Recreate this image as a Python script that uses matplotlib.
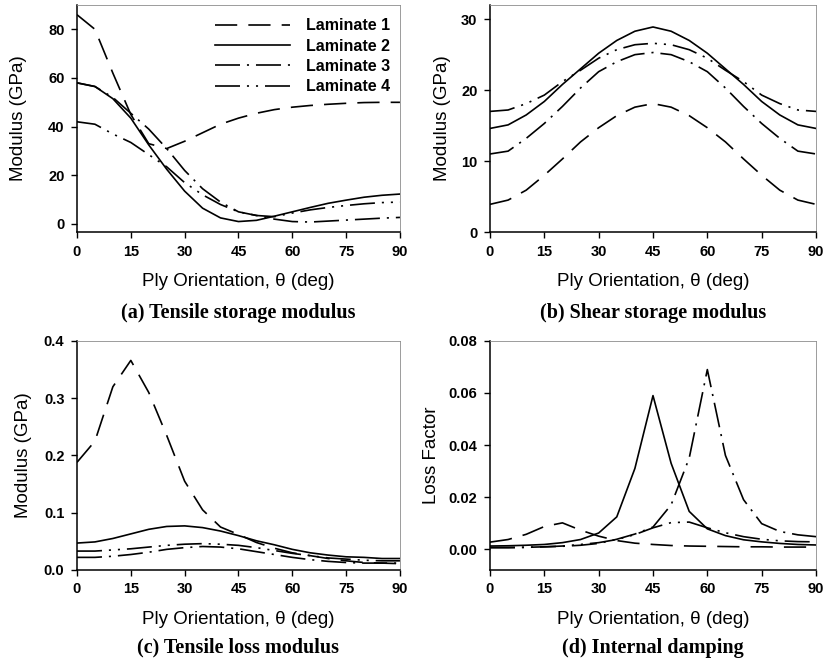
import numpy as np
import matplotlib
matplotlib.use("Agg")
import matplotlib.pyplot as plt

plt.rcParams['font.family'] = ['Liberation Sans', 'DejaVu Sans']
plt.rcParams['lines.scale_dashes'] = False

# ply orientation (deg)
theta = [0, 5, 10, 15, 20, 25, 30, 35, 40, 45, 50, 55, 60, 65, 70, 75, 80, 85, 90]
labels = ["Laminate 1", "Laminate 2", "Laminate 3", "Laminate 4"]

# (a) tensile storage modulus, GPa
tens_l1 = [86, 80, 62, 45, 33, 31, 34, 37.5, 41, 43.5, 45.5, 47, 48, 48.7, 49.2, 49.6, 49.9, 50, 50]
tens_l2 = [58, 56.5, 51.5, 43.5, 32.5, 22.5, 13.5, 6.5, 2.5, 1, 1.5, 3.2, 5, 6.8, 8.5, 9.8, 11, 11.8, 12.3]
tens_l3 = [58, 56.5, 52, 45.5, 39, 31, 22, 14.5, 9, 5, 3.5, 2, 1, 0.8, 1.2, 1.6, 2, 2.4, 2.7]
tens_l4 = [42, 41, 37, 33.5, 28.5, 23.5, 17, 12, 8, 5, 3.5, 3, 4.5, 5.8, 6.8, 7.6, 8.3, 8.8, 9]

# (b) shear storage modulus, GPa
shear_l1 = [3.9, 4.5, 5.9, 8.0, 10.3, 12.7, 14.7, 16.4, 17.6, 18.1, 17.6, 16.4, 14.7, 12.7, 10.3, 8.0, 5.9, 4.5, 3.9]
shear_l2 = [14.6, 15.1, 16.5, 18.4, 20.8, 23.0, 25.2, 27.0, 28.3, 28.9, 28.3, 27.0, 25.2, 23.0, 20.8, 18.4, 16.5, 15.1, 14.6]
shear_l3 = [11.0, 11.4, 13.2, 15.3, 17.7, 20.3, 22.6, 24.0, 25.0, 25.3, 25.0, 24.0, 22.6, 20.3, 17.7, 15.3, 13.2, 11.4, 11.0]
shear_l4 = [17.0, 17.2, 18.1, 19.3, 21.2, 22.8, 24.5, 25.7, 26.4, 26.6, 26.4, 25.7, 24.5, 22.8, 21.2, 19.3, 18.1, 17.2, 17.0]

# (c) tensile loss modulus, GPa
loss_l1 = [0.188, 0.225, 0.32, 0.366, 0.31, 0.235, 0.155, 0.105, 0.075, 0.062, 0.048, 0.038, 0.03, 0.025, 0.02, 0.016, 0.013, 0.012, 0.011]
loss_l2 = [0.047, 0.049, 0.055, 0.063, 0.071, 0.076, 0.077, 0.074, 0.068, 0.06, 0.051, 0.044, 0.036, 0.03, 0.026, 0.023, 0.022, 0.02, 0.02]
loss_l3 = [0.022, 0.022, 0.024, 0.027, 0.031, 0.036, 0.039, 0.041, 0.040, 0.037, 0.032, 0.027, 0.022, 0.018, 0.015, 0.013, 0.012, 0.012, 0.012]
loss_l4 = [0.033, 0.033, 0.035, 0.037, 0.040, 0.043, 0.045, 0.046, 0.045, 0.043, 0.039, 0.034, 0.029, 0.025, 0.021, 0.019, 0.017, 0.016, 0.016]

# (d) internal damping, loss factor
damp_l1 = [0.0027, 0.0037, 0.0057, 0.0087, 0.0101, 0.0073, 0.005, 0.0033, 0.0023, 0.0018, 0.0014, 0.0012, 0.0011, 0.001, 0.0009, 0.0009, 0.0008, 0.0008, 0.0008]
damp_l2 = [0.0012, 0.0013, 0.0015, 0.0018, 0.0025, 0.0037, 0.0062, 0.0124, 0.031, 0.059, 0.033, 0.0145, 0.0078, 0.0052, 0.0036, 0.0028, 0.0022, 0.0018, 0.0016]
damp_l3 = [0.0006, 0.0006, 0.0007, 0.0009, 0.0011, 0.0015, 0.0022, 0.0038, 0.0058, 0.0085, 0.017, 0.035, 0.069, 0.036, 0.019, 0.0098, 0.0068, 0.0055, 0.0048]
damp_l4 = [0.0006, 0.0006, 0.0007, 0.0009, 0.0012, 0.0018, 0.0025, 0.0037, 0.0056, 0.0082, 0.0102, 0.0104, 0.0082, 0.0063, 0.0048, 0.0038, 0.0032, 0.0029, 0.0028]

dash_styles = [(0, (16, 8)), '-', (0, (18, 5, 1.5, 5)), (0, (18, 5, 1.5, 5, 1.5, 5))]

fig = plt.figure(figsize=(8.26, 6.65), dpi=100)

# panel boxes in figure fractions
boxes = [[0.0932, 0.6511, 0.391, 0.3414],
         [0.5932, 0.6511, 0.3947, 0.3414],
         [0.0932, 0.1429, 0.391, 0.3444],
         [0.5932, 0.1429, 0.3947, 0.3444]]
series = [[tens_l1, tens_l2, tens_l3, tens_l4],
          [shear_l1, shear_l2, shear_l3, shear_l4],
          [loss_l1, loss_l2, loss_l3, loss_l4],
          [damp_l1, damp_l2, damp_l3, damp_l4]]
ylabels = ["Modulus (GPa)", "Modulus (GPa)", "Modulus (GPa)", "Loss Factor"]
ylims = [(-3.3, 90), (0, 32), (0, 0.4), (-0.008, 0.08)]
yticks = [[0, 20, 40, 60, 80], [0, 10, 20, 30], [0, 0.1, 0.2, 0.3, 0.4], [0, 0.02, 0.04, 0.06, 0.08]]
yfmt = ["%d", "%d", "%.1f", "%.2f"]
ylab_x = [-0.155, -0.12, -0.139, -0.153]
titles = ["(a) Tensile storage modulus", "(b) Shear storage modulus",
          "(c) Tensile loss modulus", "(d) Internal damping"]
title_y = [0.529, 0.529, 0.0256, 0.0256]

for i in range(4):
    ax = fig.add_axes(boxes[i])
    for j in range(4):
        ax.plot(theta, series[i][j], color='black', lw=1.2, linestyle=dash_styles[j], label=labels[j])
    ax.set_xlim(0, 90)
    ax.set_ylim(*ylims[i])
    ax.set_xticks(range(0, 91, 15))
    ax.set_yticks(yticks[i])
    ax.set_yticklabels([yfmt[i] % v for v in yticks[i]])
    for lab in ax.get_xticklabels() + ax.get_yticklabels():
        lab.set_fontweight('bold')
        lab.set_fontsize(10.5)
    ax.tick_params(direction='out', length=4, width=1, pad=5)
    for s in ['left', 'bottom']:
        ax.spines[s].set_linewidth(1.1)
    for s in ['top', 'right']:
        ax.spines[s].set_linewidth(0.6)
        ax.spines[s].set_color('0.55')
    ax.set_xlabel("Ply Orientation, \u03b8 (deg)", fontsize=13.5)
    ax.xaxis.set_label_coords(0.5, -0.18)
    ax.set_ylabel(ylabels[i], fontsize=13.5)
    ax.yaxis.set_label_coords(ylab_x[i], 0.5)
    x0 = boxes[i][0] + boxes[i][2] / 2
    fig.text(x0, title_y[i], titles[i], ha='center', va='center', fontsize=14.5,
             fontweight='bold', family='Liberation Serif')
    if i == 0:
        leg = ax.legend(loc='upper right', bbox_to_anchor=(1.005, 0.99), frameon=False,
                        prop={'weight': 'bold', 'size': 11.5}, handlelength=4.7,
                        handletextpad=1.0, labelspacing=0.33, borderpad=0.2)

fig.savefig("out.png", dpi=100)
